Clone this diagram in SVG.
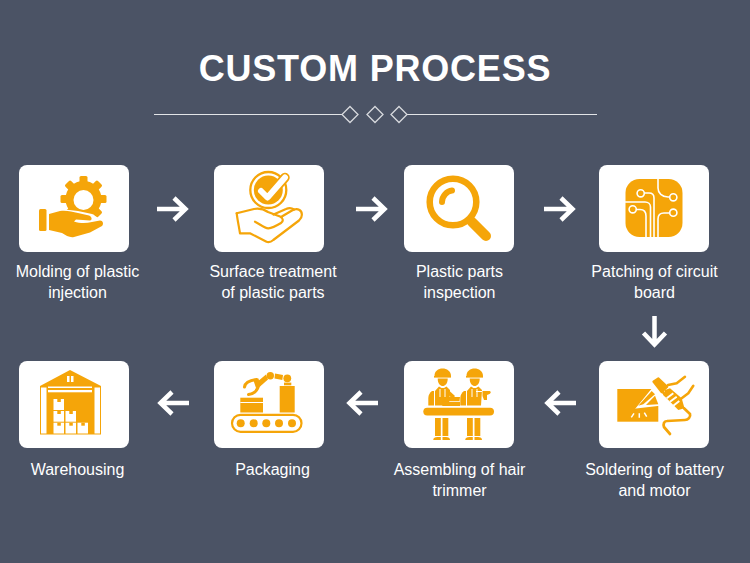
<svg xmlns="http://www.w3.org/2000/svg" width="750" height="563" viewBox="0 0 750 563">
<style>
.card{fill:#fff}
.o{fill:#f5a509}
.w{fill:#fff}
.ol{fill:none;stroke:#f5a509;stroke-linecap:round;stroke-linejoin:round}
.wl{fill:none;stroke:#fff;stroke-linecap:round;stroke-linejoin:round}
.lab{font-family:"Liberation Sans",Arial,sans-serif;font-size:16px;fill:#fff;text-anchor:middle}
.arr{fill:none;stroke:#fff;stroke-width:4.500}
.dia{fill:none;stroke:#d8dade;stroke-width:1.300}
</style>
<defs>
<g id="arrow"><path class="arr" d="M0 0H28M17-11L28.500 0L17 11"/></g>
</defs>
<rect width="750" height="563" fill="#4b5365"/>
<g id="title">
<text x="375" y="81" font-family="'Liberation Sans',Arial,sans-serif" font-size="36" font-weight="700" fill="#fff" text-anchor="middle" letter-spacing="0.800">CUSTOM PROCESS</text>
<path d="M154 114.500H342.500M406.500 114.500H597" stroke="#e2e4e7" stroke-width="1" fill="none"/>
<path class="dia" d="M350 106.500L358 114.500L350 122.500L342 114.500Z"/>
<path class="dia" d="M375 106.500L383 114.500L375 122.500L367 114.500Z"/>
<path class="dia" d="M399 106.500L407 114.500L399 122.500L391 114.500Z"/>
</g>
<g id="connectors">
<use href="#arrow" transform="translate(157 209)"/>
<use href="#arrow" transform="translate(356 209)"/>
<use href="#arrow" transform="translate(544 209)"/>
<use href="#arrow" transform="translate(654.500 316) rotate(90)"/>
<use href="#arrow" transform="translate(189 403) rotate(180)"/>
<use href="#arrow" transform="translate(378 403) rotate(180)"/>
<use href="#arrow" transform="translate(576 403) rotate(180)"/>
</g>
<g id="node-molding">
<rect class="card" x="19" y="165" width="110" height="87" rx="8"/>
<g class="o">
<circle cx="83.500" cy="199" r="18"/>
<rect x="79.500" y="176" width="8" height="8" rx="1.500"/><rect x="79.500" y="214" width="8" height="8" rx="1.500"/><rect x="60.500" y="195" width="8" height="8" rx="1.500"/><rect x="98.500" y="195" width="8" height="8" rx="1.500"/>
<g transform="rotate(45 83.500 199)"><rect x="79.500" y="176" width="8" height="8" rx="1.500"/><rect x="79.500" y="214" width="8" height="8" rx="1.500"/><rect x="60.500" y="195" width="8" height="8" rx="1.500"/><rect x="98.500" y="195" width="8" height="8" rx="1.500"/></g>
</g>
<circle class="w" cx="83.500" cy="200" r="10"/>
<path class="w" d="M47 214L60 209L78 211L92 214L100 219L106 226L90 240L60 240L47 234Z"/>
<rect class="o" x="39" y="209" width="7.500" height="22" rx="1.500"/>
<path class="o" d="M49 214L60 211C67 210 72 212 78 213L89 215.500C92 216.500 92.500 220 90 220.500L76 219.500L74 221.500C80 223.500 86 223.500 92 222L100 220.500C103 220.500 104 224 102 226L90 232.500L74 237C70 238 66 235.500 62 233L49 230Z"/>
</g>
<g id="node-surface">
<rect class="card" x="214" y="165" width="110" height="87" rx="8"/>
<circle class="ol" cx="268.300" cy="190" r="18" stroke-width="2.300"/>
<circle class="o" cx="268.300" cy="190" r="14.500"/>
<path class="ol" stroke-width="9.500" d="M261 191L267.500 197.500L285 177.500"/>
<path class="wl" stroke-width="6" d="M261 191L267.500 197.500L285 177.500"/>
<path class="ol" stroke-width="2.200" d="M236.700 213.300L254 209C260 208 265 210 268 212L280 216.500C283.500 218 283.500 221.500 281 223C276 226 272 228 268.300 228.300C264 228 260 224 255 221.700"/>
<path class="ol" stroke-width="2.200" d="M236.700 213.300C237.500 220 239 227 240 233.300L250 233.300L266 241.500C268.500 242.800 271 242 273.300 240L299 220.500C303 217 302.500 212 299.500 210C297 208.500 294.500 209 292 210.500L281 217"/>
<path class="ol" stroke-width="2.200" d="M273.500 214.500L286 209C289 207.500 292 208 294 209.500"/>
</g>
<g id="node-inspection">
<rect class="card" x="404" y="165" width="110" height="87" rx="8"/>
<circle class="ol" cx="453" cy="202" r="23.300" stroke-width="6.500"/>
<path class="ol" stroke-width="10" d="M472 222L486 236"/>
<path class="ol" stroke-width="6" d="M442 202C442 196 447 191 452 190.500"/>
</g>
<g id="node-patching">
<rect class="card" x="599" y="165" width="110" height="87" rx="8"/>
<rect class="o" x="625.500" y="179" width="57" height="58" rx="14"/>
<g class="wl" stroke-width="1.600">
<path d="M658 179V188C658 193 662 197 668 197H669.500"/>
<circle cx="673.300" cy="197.300" r="3.600"/>
<circle cx="640.700" cy="193.300" r="3.600"/>
<path d="M644.500 193H649C652 193 654 195 654 198V237"/>
<path d="M625.500 202H645C648 202 650.500 204 650.500 207V237"/>
<circle cx="632.700" cy="209.300" r="3.600"/>
<path d="M636.500 209.500H640C644 209.500 646 212 646 216V237"/>
<circle cx="673.300" cy="212.700" r="3.600"/>
<path d="M669.500 213H664C660 213 658 215 658 219V237"/>
</g>
</g>
<g id="node-warehousing">
<rect class="card" x="19" y="361" width="110" height="87" rx="8"/>
<path class="o" d="M40 386L70 370L101 386V434.500H40Z"/>
<rect class="w" x="41" y="387.500" width="5.500" height="46"/>
<rect class="w" x="94.500" y="387.500" width="5.500" height="46"/>
<rect class="w" x="48" y="386.500" width="44" height="1.500"/>
<rect class="w" x="48" y="390" width="44" height="2.300"/>
<rect class="w" x="67" y="376" width="2.500" height="6"/>
<rect class="w" x="71" y="376" width="2.500" height="6"/>
<g class="w">
<rect x="53.500" y="399" width="10.500" height="11"/>
<rect x="53.500" y="411" width="10.500" height="10.700"/>
<rect x="65.500" y="411" width="10.500" height="10.700"/>
<rect x="53.500" y="422.700" width="10.500" height="10.800"/>
<rect x="65.500" y="422.700" width="10.500" height="10.800"/>
<rect x="77.500" y="422.700" width="10.500" height="10.800"/>
</g>
<g class="o">
<rect x="57.300" y="399" width="3.500" height="3"/>
<rect x="57.300" y="411" width="3.500" height="3"/>
<rect x="69.300" y="411" width="3.500" height="3"/>
<rect x="57.300" y="422.700" width="3.500" height="3"/>
<rect x="69.300" y="422.700" width="3.500" height="3"/>
<rect x="81.300" y="422.700" width="3.500" height="3"/>
</g>
</g>
<g id="node-packaging">
<rect class="card" x="214" y="361" width="110" height="87" rx="8"/>
<rect class="o" x="240.300" y="397.700" width="22.700" height="14.800"/>
<rect class="w" x="240.300" y="402" width="22.700" height="1"/>
<rect class="o" x="279.700" y="386" width="15" height="26.500"/>
<rect class="ol" x="232" y="414.800" width="69.500" height="17" rx="8.500" stroke-width="2.200"/>
<g class="o"><circle cx="240.700" cy="423.300" r="4"/><circle cx="253.700" cy="423.300" r="4"/><circle cx="266.300" cy="423.300" r="4"/><circle cx="279" cy="423.300" r="4"/><circle cx="292" cy="423.300" r="4"/></g>
<circle class="o" cx="270.300" cy="375.700" r="3.700"/>
<circle class="o" cx="287.300" cy="378.300" r="3.900"/>
<rect class="o" x="284" y="382.600" width="7.300" height="2.700"/>
<path class="o" d="M275 373.500L283 375L282.300 380L274.500 378.500Z"/>
<path class="o" d="M266 374.500L268 379.500L260 386.500L257 382Z"/>
<path class="ol" stroke-width="3" d="M244.500 387C245 383 249 380.500 256.500 379.500"/>
<path class="ol" stroke-width="3" d="M248.500 394.500C253 394 257 391 258.500 386"/>
<path class="o" d="M253 379L258.500 378.500L260.500 386L256 388Z"/>
</g>
<g id="node-assembling">
<rect class="card" x="404" y="361" width="110" height="87" rx="8"/>
<g class="o">
<rect x="423.300" y="407.700" width="70.700" height="7.800" rx="3.900"/>
<g id="w1">
<path d="M434.500 376C434 366 451 366 451 376Z"/>
<rect x="434" y="376" width="17" height="1.600"/>
<path d="M437.700 378.500H447.700C447.700 384 445 386 442.700 386C440.400 386 437.700 384 437.700 378.500Z"/>
<path d="M435 391L439 386.500L441.500 388L444 388L446.500 386.500L450 390L449 405.500H435Z"/>
<path d="M432 391H434V405.500H428.300V398C428.300 395 430 392.500 432 391Z"/>
<rect x="435" y="418" width="5.800" height="18"/><rect x="442.500" y="418" width="5.800" height="18"/>
<path d="M433.300 440C433.300 437.500 435 437 440.800 437V440ZM442.500 437C448.300 437 450 437.500 450 440H442.500Z"/>
</g>
<path d="M449 390.500L455 396L452.500 399L448 394.500Z"/>
<path d="M442.300 401L447 397H460L459.500 401ZM442.300 401.800H460V406H442.300Z"/>
<g transform="translate(32 0)">
<path d="M434.500 376C434 366 451 366 451 376Z"/>
<rect x="434" y="376" width="17" height="1.600"/>
<path d="M437.700 378.500H447.700C447.700 384 445 386 442.700 386C440.400 386 437.700 384 437.700 378.500Z"/>
<path d="M435 391L439 386.500L441.500 388L444 388L446.500 386.500L450 390L449 405.500H435Z"/>
<path d="M432 391H434V405.500H428.300V398C428.300 395 430 392.500 432 391Z"/>
<rect x="435" y="418" width="5.800" height="18"/><rect x="442.500" y="418" width="5.800" height="18"/>
<path d="M433.300 440C433.300 437.500 435 437 440.800 437V440ZM442.500 437C448.300 437 450 437.500 450 440H442.500Z"/>
</g>
<path d="M482.500 391L489 391C491 391 491.500 393 489.500 394L487 395V400H484L482.500 396Z"/>
</g>
<g fill="none" stroke="#fff" stroke-width="1">
<path d="M440 389V397M445 389V397M472 389V397M477 389V397M476 391.500L482 391.500"/>
</g>
</g>
<g id="node-soldering">
<rect class="card" x="599" y="361" width="110" height="87" rx="8"/>
<rect class="o" x="617.300" y="389" width="41" height="32.700"/>
<path class="w" d="M635 409L653 387H660V405.800L636 408.500Z"/>
<path class="o" d="M638.300 405.700L651.700 391L655 394.300L643.300 404.300Z"/>
<path class="o" d="M646 405L655 395.700L658.300 404.300Z"/>
<path class="o" stroke="#f5a509" stroke-width="2" stroke-linejoin="round" d="M653.300 381.700L658.300 378.300L667.300 386.700L661.700 392.300Z"/>
<path class="ol" stroke-width="2.500" d="M662 391L665 395"/>
<path class="o" d="M665 390L670 388.300L681.700 398.300L684.500 408.300L678.300 410L663.300 395Z"/>
<g fill="none" stroke="#fff" stroke-width="2"><path d="M666.700 398.300L673.300 393.300M670 401.700L676.700 396.700M673.300 405.700L679.300 401"/></g>
<path class="ol" stroke-width="2.500" d="M668 385L676.700 383.300L685 376.700"/>
<path class="ol" stroke-width="2.500" d="M681.700 398.300L688.300 393.300L693.300 385.700"/>
<path class="ol" stroke-width="2.700" d="M684 408.300L690 414C691 417 688 420 685 420L667 421C664 421 663 424 664 427L670 434"/>
<g fill="none" stroke="#fff" stroke-width="1.500"><path d="M634 413.300L631.300 417.300M639.300 413.300V417.700M644.300 412.700L646.700 416.700"/></g>
</g>
<g class="lab" id="labels">
<text x="77.500" y="277">Molding of plastic</text>
<text x="77.500" y="298">injection</text>
<text x="273" y="277">Surface treatment</text>
<text x="273" y="298">of plastic parts</text>
<text x="459.500" y="277">Plastic parts</text>
<text x="459.500" y="298">inspection</text>
<text x="654.500" y="277">Patching of circuit</text>
<text x="654.500" y="298">board</text>
<text x="77.500" y="475">Warehousing</text>
<text x="272.500" y="475">Packaging</text>
<text x="459.500" y="475">Assembling of hair</text>
<text x="459.500" y="496">trimmer</text>
<text x="654.500" y="475">Soldering of battery</text>
<text x="654.500" y="496">and motor</text>
</g>
</svg>
